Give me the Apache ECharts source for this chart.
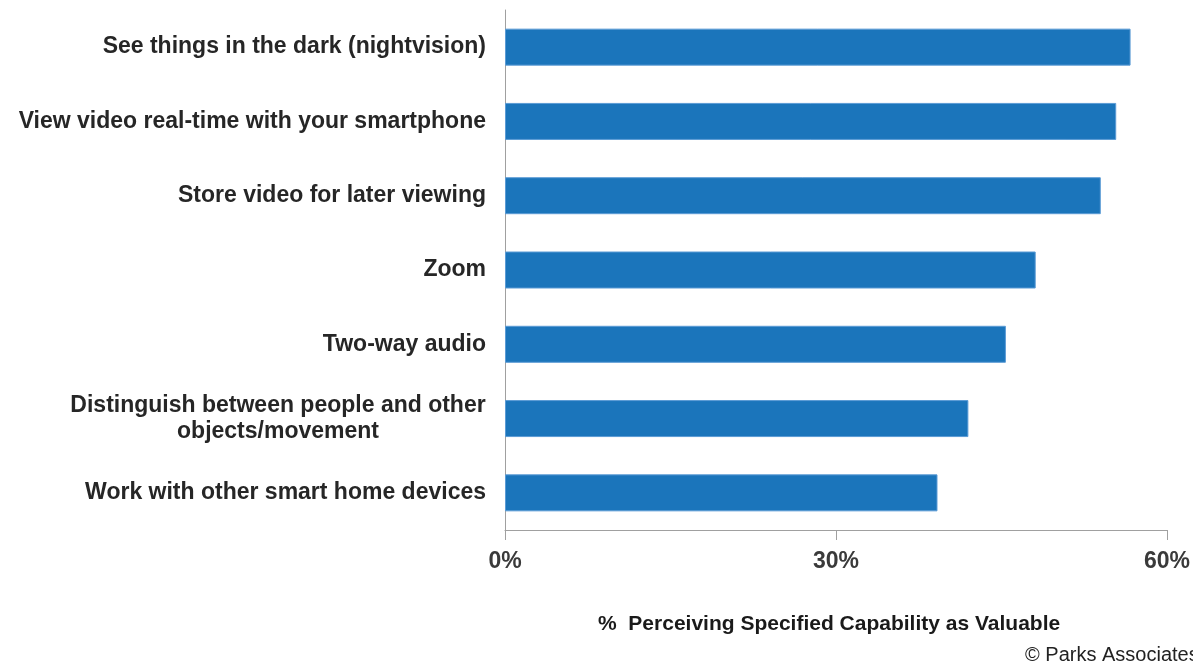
<!DOCTYPE html>
<html>
<head>
<meta charset="utf-8">
<script src="https://cdn.jsdelivr.net/npm/echarts@6/dist/echarts.min.js"></script>
<style>
  html, body { margin: 0; padding: 0; background: #fff; }
  #chart { width: 1193px; height: 665px; }
</style>
</head>
<body>
<div id="chart"></div>
<script>
const categories = [
  'See things in the dark (nightvision)',
  'View video real-time with your smartphone',
  'Store video for later viewing',
  'Zoom',
  'Two-way audio',
  'Distinguish between people and other\nobjects/movement',
  'Work with other smart home devices'
];
const values = [56.7, 55.4, 54.0, 48.1, 45.4, 42.0, 39.2];
const xTicks = [0, 30, 60];

const labelFont = 'bold 23px "Liberation Sans", Arial, sans-serif';
const measure = document.createElement('canvas').getContext('2d');
measure.font = labelFont;

const chart = echarts.init(document.getElementById('chart'));

const option = {
  animation: false,
  grid: { left: 505, right: 25, top: 10, bottom: 135 },
  xAxis: {
    type: 'value',
    min: 0,
    max: 60,
    interval: 30,
    axisLine: { show: true, lineStyle: { color: '#a0a0a0', width: 1 } },
    axisTick: { show: true, length: 10, inside: false, lineStyle: { color: '#a0a0a0' } },
    splitLine: { show: false },
    axisLabel: {
      margin: 20,
      color: '#3a3a3a',
      fontFamily: '"Liberation Sans Narrow", "Liberation Sans", Arial, sans-serif',
      fontWeight: 'bold',
      fontSize: 23,
      formatter: v => xTicks.includes(v) ? v + '%' : ''
    }
  },
  yAxis: {
    type: 'category',
    inverse: true,
    data: categories,
    axisLine: { show: true, lineStyle: { color: '#a0a0a0', width: 1 } },
    axisTick: { show: false },
    axisLabel: {
      margin: 19,
      color: '#262626',
      fontFamily: '"Liberation Sans", Arial, sans-serif',
      fontWeight: 'bold',
      fontSize: 23,
      lineHeight: 26,
      formatter: function (v) {
        if (v.indexOf('\n') < 0) return v;
        return v.split('\n').map(l => '{m|' + l + '}').join('\n');
      },
      rich: {
        m: {
          align: 'center',
          width: 0,
          fontFamily: '"Liberation Sans", Arial, sans-serif',
          fontWeight: 'bold',
          fontSize: 23,
          lineHeight: 26,
          color: '#262626'
        }
      }
    }
  },
  series: [{
    type: 'bar',
    data: values,
    barWidth: 37,
    itemStyle: { color: '#1b75bb', borderColor: '#5b9bd5', borderWidth: 1 }
  }],
  graphic: [
    {
      type: 'text',
      left: 598,
      top: 614,
      style: {
        text: '%  Perceiving Specified Capability as Valuable',
        font: 'bold 21px "Liberation Sans Narrow", "Liberation Sans", Arial, sans-serif',
        fill: '#1a1a1a'
      }
    },
    {
      type: 'text',
      left: 1025,
      top: 645,
      style: {
        text: '\u00a9 Parks Associates',
        font: '20px "Liberation Sans", Arial, sans-serif',
        fill: '#222'
      }
    }
  ]
};

// rich width = widest line, so the two lines center within a right-aligned block
const multi = categories.find(c => c.indexOf('\n') >= 0);
option.yAxis.axisLabel.rich.m.width = Math.ceil(Math.max(...multi.split('\n').map(l => measure.measureText(l).width)));

chart.setOption(option);
</script>
</body>
</html>
